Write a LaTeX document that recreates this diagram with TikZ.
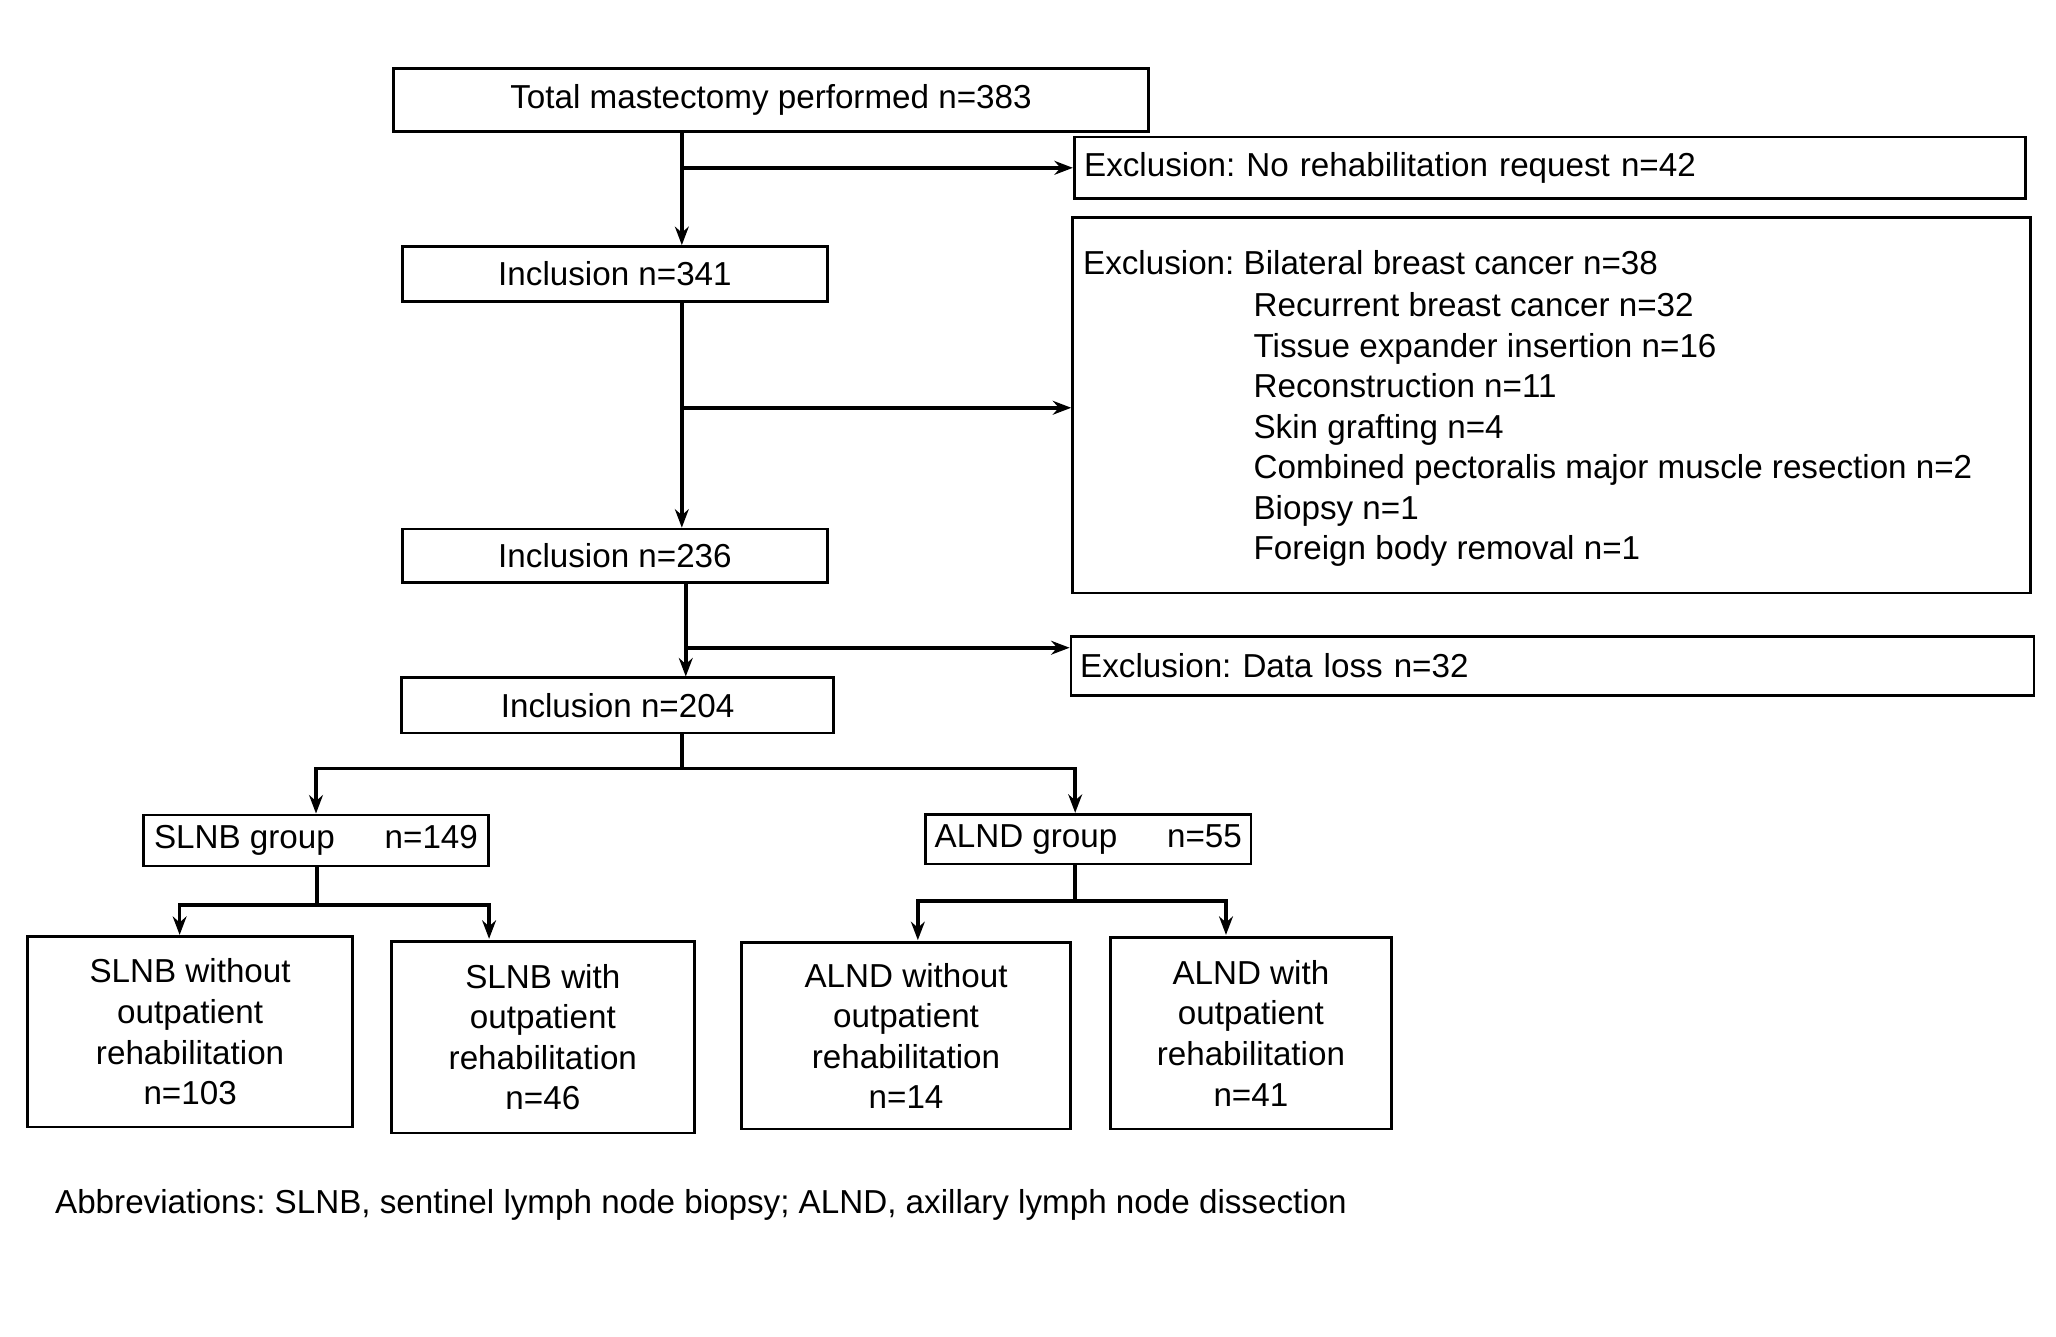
\documentclass[tikz,border=0pt]{standalone}
\usepackage{fontspec}
\setmainfont{Liberation Sans}
\usetikzlibrary{arrows.meta,positioning,calc}
\frenchspacing
\tikzset{
    >={Stealth[length=4pt,width=3pt]},
    every picture/.style={line width=0.6pt},
    box/.style={draw,inner sep=0pt,font=\fontsize{7.2}{8.8}\selectfont},
    leaf/.style={box,align=center},
    flow/.style={->,line width=0.8pt}
}
\begin{document}
\begin{tikzpicture}[x=0.01cm,y=-0.01cm]
    \useasboundingbox (0,0) rectangle (1568,1019);

    % main column
    \node[box,minimum width=5.76cm,minimum height=0.48cm] (total) at (588,76) {Total mastectomy performed n=383};
    \node[box,minimum width=3.24cm,minimum height=0.42cm] (inA) at (469,209) {Inclusion n=341};
    \node[box,minimum width=3.24cm,minimum height=0.41cm] (inB) at (469,424) {Inclusion n=236};
    \node[box,minimum width=3.29cm,minimum height=0.42cm] (inC) at (471,538) {Inclusion n=204};

    % exclusions
    \node[box,minimum width=7.25cm,minimum height=0.47cm,text width=7.1cm,align=left] (exA) at (1182,128) {Exclusion: No rehabilitation request n=42};
    \node[box,minimum width=7.30cm,minimum height=2.86cm,anchor=north west] (exB) at (817,165) {};
    \node[font=\fontsize{7.2}{8.8}\selectfont,anchor=west,inner sep=0pt] (exBt) at (825,200) {Exclusion: Bilateral breast cancer n=38};
    \node[font=\fontsize{7.2}{8.8}\selectfont,anchor=north west,align=left,inner sep=0pt] (exBl) at (955,222)
        {Recurrent breast cancer n=32\\ Tissue expander insertion n=16\\ Reconstruction n=11\\
         Skin grafting n=4\\ Combined pectoralis major muscle resection n=2\\ Biopsy n=1\\ Foreign body removal n=1};
    \node[box,minimum width=7.34cm,minimum height=0.45cm,text width=7.2cm,align=left] (exC) at (1184,508) {Exclusion: Data loss n=32};

    % groups
    \node[box,minimum width=2.63cm,minimum height=0.39cm] (slnb) at (241,641) {SLNB group\hspace{1.5em}n=149};
    \node[box,minimum width=2.48cm,minimum height=0.38cm] (alnd) at (830,640) {ALND group\hspace{1.5em}n=55};

    % leaves
    \node[leaf,minimum width=2.48cm,minimum height=1.45cm] (sA) at (145,787) {SLNB without\\outpatient\\rehabilitation\\n=103};
    \node[leaf,minimum width=2.31cm,minimum height=1.46cm] (sB) at (414,791) {SLNB with\\outpatient\\rehabilitation\\n=46};
    \node[leaf,minimum width=2.51cm,minimum height=1.42cm] (aA) at (691,790) {ALND without\\outpatient\\rehabilitation\\n=14};
    \node[leaf,minimum width=2.14cm,minimum height=1.46cm] (aB) at (954,788) {ALND with\\outpatient\\rehabilitation\\n=41};

    \node[font=\fontsize{7.2}{8.8}\selectfont,anchor=west,inner sep=0pt] (abbr) at (41,919)
        {Abbreviations: SLNB, sentinel lymph node biopsy; ALND, axillary lymph node dissection};

    % connectors
    \coordinate (xA) at (520,0);
    \coordinate (xC) at (523,0);
    \draw[flow] (total.south -| xA) -- (inA.north -| xA);
    \draw[flow] (xA |- exA.west) -- (exA.west);
    \draw[flow] (inA.south -| xA) -- (inB.north -| xA);
    \coordinate (jB) at (520,311);
    \draw[flow] (jB) -- (jB -| exB.west);
    \draw[flow] (inB.south -| xC) -- (inC.north -| xC);
    \coordinate (jC) at (523,494);
    \draw[flow] (jC) -- (jC -| exC.west);

    \coordinate (split) at (520,586);
    \draw[line width=0.8pt] (inC.south -| split) -- (split);
    \draw[flow] (split) -| (slnb.north);
    \draw[flow] (split) -| (alnd.north -| 820,0);

    \coordinate (sj) at (242,690);
    \draw[line width=0.8pt] (slnb.south -| sj) -- (sj);
    \draw[flow] (sj) -| (137,713);
    \draw[flow] (sj) -| (373,716);
    \coordinate (aj) at (820,687);
    \draw[line width=0.8pt] (alnd.south -| aj) -- (aj);
    \draw[flow] (aj) -| (700,717);
    \draw[flow] (aj) -| (935,713);
\end{tikzpicture}
\end{document}
